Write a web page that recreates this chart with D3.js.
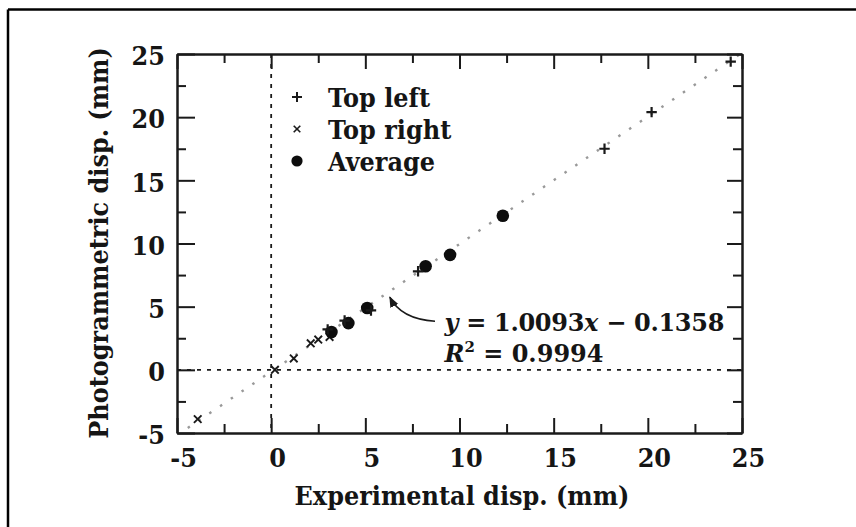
<!DOCTYPE html>
<html>
<head>
<meta charset="utf-8">
<script src="https://cdn.jsdelivr.net/npm/d3@7"></script>
<style>
  body { margin: 0; background: #fff; }
  svg { display: block; }
  text { font-family: "DejaVu Serif", "Liberation Serif", serif; fill: #151515; font-weight: bold; }
</style>
</head>
<body>
<svg id="chart" width="856" height="527"></svg>
<script>
// Measured displacements (mm): experimental (x) vs photogrammetric (y)
const topLeftX = [3.0, 3.9, 5.3, 7.8, 17.7, 20.2, 24.4];
const topLeftY = [3.2, 3.9, 4.7, 7.8, 17.5, 20.4, 24.4];

const topRightX = [-3.9, 0.2, 1.2, 2.1, 2.5, 3.1];
const topRightY = [-3.9, 0.0, 0.9, 2.1, 2.4, 2.6];

const averageX = [3.2, 4.1, 5.1, 8.2, 9.5, 12.3];
const averageY = [3.0, 3.7, 4.9, 8.2, 9.1, 12.2];

// Linear regression of all points
const fitSlope = 1.0093;
const fitIntercept = -0.1358;
const fitR2 = 0.9994;

const xTicks = [-5, 0, 5, 10, 15, 20, 25];
const yTicks = [-5, 0, 5, 10, 15, 20, 25];
const xMinor = [-2.5, 2.5, 7.5, 12.5, 17.5, 22.5];
const yMinor = [-2.5, 2.5, 7.5, 12.5, 17.5, 22.5];

const legendLabels = ["Top left", "Top right", "Average"];
const xTitle = "Experimental disp. (mm)";
const yTitle = "Photogrammetric disp. (mm)";

const svg = d3.select("#chart");
const x = d3.scaleLinear().domain([-5, 25]).range([177, 742]);
const y = d3.scaleLinear().domain([-5, 25]).range([433, 54]);

const ink = "#1a1a1a";
const fontSize = 24;
const tall = 1.12; // glyphs are set slightly taller than wide
const fmt = d => (d < 0 ? "-" + Math.abs(d) : String(d));

// text placed at (px, py), optionally stretched vertically
function label(parent, px, py, rotate, stretch = tall) {
  return parent.append("text")
    .attr("transform", `translate(${px},${py})${rotate ? " rotate(" + rotate + ")" : ""} scale(1,${stretch})`)
    .attr("font-size", fontSize);
}

// page frame (top and left rules)
svg.append("line").attr("x1", 8).attr("x2", 856).attr("y1", 9.5).attr("y2", 9.5)
  .attr("stroke", "#000").attr("stroke-width", 2.5);
svg.append("line").attr("x1", 8).attr("x2", 8).attr("y1", 9.5).attr("y2", 527)
  .attr("stroke", "#000").attr("stroke-width", 2.5);

// clip region for plotted curves
svg.append("clipPath").attr("id", "plotArea").append("rect")
  .attr("x", x(-5)).attr("y", y(25))
  .attr("width", x(25) - x(-5)).attr("height", y(-5) - y(25));

// zero lines
svg.append("line")
  .attr("x1", x(0)).attr("x2", x(0)).attr("y1", y(25)).attr("y2", y(-5))
  .attr("stroke", ink).attr("stroke-width", 1.8).attr("stroke-dasharray", "4,6");
svg.append("line")
  .attr("x1", x(-5)).attr("x2", x(25)).attr("y1", y(0)).attr("y2", y(0))
  .attr("stroke", ink).attr("stroke-width", 1.8).attr("stroke-dasharray", "4,6");

// regression line
const fitLine = d3.line().x(d => x(d)).y(d => y(fitSlope * d + fitIntercept));
svg.append("path")
  .attr("clip-path", "url(#plotArea)")
  .attr("d", fitLine(x.domain()))
  .attr("fill", "none").attr("stroke", "#999").attr("stroke-width", 2.4)
  .attr("stroke-dasharray", "2.5,10.5");

// axes, ticks pointing inward on all four sides
function styleAxis(g) {
  g.select(".domain").attr("stroke", ink).attr("stroke-width", 2);
  g.selectAll(".tick line").attr("stroke", ink).attr("stroke-width", 2);
  g.selectAll("text").attr("font-size", fontSize).attr("fill", "#151515")
    .attr("font-family", "DejaVu Serif, serif").attr("font-weight", "bold")
    .attr("transform", `scale(1,${tall})`);
}

svg.append("g").attr("transform", `translate(0,${y(-5)})`)
  .call(d3.axisBottom(x).tickValues(xTicks).tickSize(-15).tickSizeOuter(0).tickPadding(13).tickFormat(fmt))
  .call(styleAxis)
  .call(g => g.selectAll("text").attr("dx", 6));
svg.append("g").attr("transform", `translate(0,${y(-5)})`)
  .call(d3.axisBottom(x).tickValues(xMinor).tickSize(-9).tickSizeOuter(0).tickFormat(""))
  .call(styleAxis);

svg.append("g").attr("transform", `translate(0,${y(25)})`)
  .call(d3.axisTop(x).tickValues(xTicks).tickSize(-15).tickSizeOuter(0).tickFormat(""))
  .call(styleAxis);
svg.append("g").attr("transform", `translate(0,${y(25)})`)
  .call(d3.axisTop(x).tickValues(xMinor).tickSize(-9).tickSizeOuter(0).tickFormat(""))
  .call(styleAxis);

svg.append("g").attr("transform", `translate(${x(-5)},0)`)
  .call(d3.axisLeft(y).tickValues(yTicks).tickSize(-18).tickSizeOuter(0).tickPadding(12).tickFormat(fmt))
  .call(styleAxis)
  .call(g => g.selectAll("text").attr("dy", "0.40em"));
svg.append("g").attr("transform", `translate(${x(-5)},0)`)
  .call(d3.axisLeft(y).tickValues(yMinor).tickSize(-9).tickSizeOuter(0).tickFormat(""))
  .call(styleAxis);

svg.append("g").attr("transform", `translate(${x(25)},0)`)
  .call(d3.axisRight(y).tickValues(yTicks).tickSize(-15).tickSizeOuter(0).tickFormat(""))
  .call(styleAxis);
svg.append("g").attr("transform", `translate(${x(25)},0)`)
  .call(d3.axisRight(y).tickValues(yMinor).tickSize(-9).tickSizeOuter(0).tickFormat(""))
  .call(styleAxis);

// markers
const plusPath = s => `M${-s},0H${s}M0,${-s}V${s}`;
const crossPath = s => `M${-s},${-s}L${s},${s}M${-s},${s}L${s},${-s}`;

svg.append("g").selectAll("path").data(d3.zip(topRightX, topRightY)).join("path")
  .attr("transform", d => `translate(${x(d[0])},${y(d[1])})`)
  .attr("d", crossPath(3.8)).attr("stroke", ink).attr("stroke-width", 1.9).attr("fill", "none");

svg.append("g").selectAll("circle").data(d3.zip(averageX, averageY)).join("circle")
  .attr("cx", d => x(d[0])).attr("cy", d => y(d[1])).attr("r", 6.3).attr("fill", "#0d0d0d");

svg.append("g").selectAll("path").data(d3.zip(topLeftX, topLeftY)).join("path")
  .attr("transform", d => `translate(${x(d[0])},${y(d[1])})`)
  .attr("d", plusPath(5.2)).attr("stroke", ink).attr("stroke-width", 2.2).attr("fill", "none");

// legend
const legendX = 297, legendTextX = 328, legendY0 = 97, legendStep = 32;
const legend = svg.append("g");
legendLabels.forEach((text, i) => {
  const cy = legendY0 + i * legendStep;
  if (i === 0) legend.append("path").attr("transform", `translate(${legendX},${cy})`)
    .attr("d", plusPath(5)).attr("stroke", ink).attr("stroke-width", 2).attr("fill", "none");
  if (i === 1) legend.append("path").attr("transform", `translate(${legendX},${cy})`)
    .attr("d", crossPath(3.3)).attr("stroke", ink).attr("stroke-width", 1.6).attr("fill", "none");
  if (i === 2) legend.append("circle").attr("cx", legendX).attr("cy", cy).attr("r", 5.6).attr("fill", "#0d0d0d");
  label(legend, legendTextX, cy).attr("dy", "0.36em").text(text);
});

// regression annotation with arrow
const defs = svg.append("defs");
defs.append("marker").attr("id", "arrowHead")
  .attr("viewBox", "0 0 10 10").attr("refX", 9).attr("refY", 5)
  .attr("markerWidth", 11).attr("markerHeight", 11).attr("orient", "auto")
  .attr("markerUnits", "userSpaceOnUse")
  .append("path").attr("d", "M0,1L10,5L0,9Z").attr("fill", ink);

const arrowStart = [8.7, 3.85];
const arrowTip = [6.3, 5.75];
const ctrl = [6.9, 4.0];
svg.append("path")
  .attr("d", `M${x(arrowStart[0])},${y(arrowStart[1])}Q${x(ctrl[0])},${y(ctrl[1])} ${x(arrowTip[0])},${y(arrowTip[1])}`)
  .attr("fill", "none").attr("stroke", ink).attr("stroke-width", 1.6)
  .attr("marker-end", "url(#arrowHead)");

const eqAnchor = [9.2, 3.1];
const eq = label(svg, x(eqAnchor[0]), y(eqAnchor[1]), 0, 1).attr("letter-spacing", -0.3);
eq.append("tspan").attr("font-style", "italic").text("y");
eq.append("tspan").text(" = " + fitSlope.toFixed(4));
eq.append("tspan").attr("font-style", "italic").text("x");
eq.append("tspan").text(" \u2212 " + Math.abs(fitIntercept).toFixed(4));

const r2 = label(svg, x(eqAnchor[0]), y(eqAnchor[1]) + 31, 0, 1);
r2.append("tspan").attr("font-style", "italic").text("R");
r2.append("tspan").attr("font-size", 15).attr("dy", -10).text("2");
r2.append("tspan").attr("dy", 10).text(" = " + fitR2.toFixed(4));

// axis titles
label(svg, 462, 505).attr("text-anchor", "middle").text(xTitle);
label(svg, 108, 243, -90).attr("text-anchor", "middle").text(yTitle);
</script>
</body>
</html>
